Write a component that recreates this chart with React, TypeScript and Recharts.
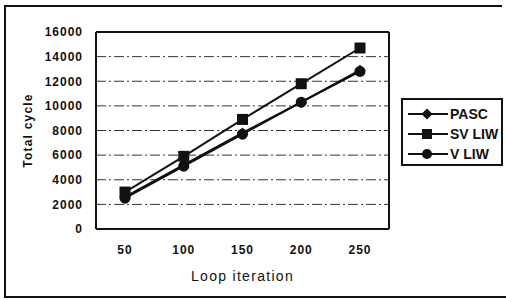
import React from 'react';
import { LineChart, Line, XAxis, YAxis, CartesianGrid } from 'recharts';

// values
const categories = ['50', '100', '150', '200', '250'];
const pascValues = [2600, 5200, 7800, 10300, 12900];
const svliwValues = [3000, 5900, 8900, 11800, 14700];
const vliwValues = [2500, 5100, 7700, 10300, 12800];
const yTicks = [0, 2000, 4000, 6000, 8000, 10000, 12000, 14000, 16000];

const seriesNames = ['PASC', 'SV LIW', 'V LIW'];

const data = categories.map((c, i) => ({
  iter: c,
  PASC: pascValues[i],
  'SV LIW': svliwValues[i],
  'V LIW': vliwValues[i],
}));

const FONT = '"Liberation Sans", Arial, sans-serif';
const INK = '#111';

function Diamond(props: any) {
  const { cx, cy, index } = props;
  if (cx == null || cy == null) return null;
  return (
    <path
      key={`d-${index}`}
      d={`M${cx},${cy - 5.5}L${cx + 5.5},${cy}L${cx},${cy + 5.5}L${cx - 5.5},${cy}Z`}
      fill={INK}
    />
  );
}

function Square(props: any) {
  const { cx, cy, index } = props;
  if (cx == null || cy == null) return null;
  return <rect key={`s-${index}`} x={cx - 5.5} y={cy - 5.5} width={11} height={11} fill={INK} />;
}

function Circle(props: any) {
  const { cx, cy, index } = props;
  if (cx == null || cy == null) return null;
  return <circle key={`c-${index}`} cx={cx} cy={cy} r={5.5} fill={INK} />;
}

function marker(name: string) {
  if (name === 'PASC') return <path d="M20,3.5L25.5,9L20,14.5L14.5,9Z" fill={INK} />;
  if (name === 'SV LIW') return <rect x={15} y={4} width={10} height={10} fill={INK} />;
  return <circle cx={20} cy={9} r={5} fill={INK} />;
}

function LegendBox() {
  return (
    <div
      style={{
        position: 'absolute',
        left: 401,
        top: 98,
        width: 102,
        height: 68,
        border: `2px solid ${INK}`,
        background: '#fff',
        padding: '4px 0 0 4px',
        boxSizing: 'border-box',
      }}
    >
      {seriesNames.map((name) => (
        <div key={name} style={{ display: 'flex', alignItems: 'center', height: 20, whiteSpace: 'nowrap' }}>
          <svg width={41} height={18} style={{ flex: 'none' }}>
            <line x1={1} y1={9} x2={41} y2={9} stroke={INK} strokeWidth={2} />
            {marker(name)}
          </svg>
          <span
            style={{
              fontFamily: FONT,
              fontWeight: 'bold',
              fontSize: 14,
              color: INK,
              marginLeft: 2,
            }}
          >
            {name}
          </span>
        </div>
      ))}
    </div>
  );
}

export default function App() {
  const tickStyle = { fontFamily: FONT, fontSize: 12, fontWeight: 'bold', fill: INK, letterSpacing: 1 };
  return (
    <div style={{ position: 'absolute', left: 0, top: 0, width: 506, height: 300, background: '#fff' }}>
      <div style={{ position: 'absolute', left: 0, top: 0 }}>
        <LineChart width={506} height={300} data={data} margin={{ top: 31, right: 116, bottom: 11, left: 0 }}>
          <CartesianGrid vertical={false} stroke="#333" strokeDasharray="10 3 2 3" />
          <XAxis
            dataKey="iter"
            height={60}
            padding={{ left: 29, right: 29 }}
            tickSize={0}
            tickMargin={16}
            tick={tickStyle}
            axisLine={{ stroke: INK, strokeWidth: 2 }}
            label={{
              value: 'Loop iteration',
              position: 'insideBottom',
              offset: 8,
              style: { fontFamily: FONT, fontSize: 14, letterSpacing: 1.3, fill: INK },
            }}
          />
          <XAxis xAxisId="top" dataKey="iter" orientation="top" height={1} tick={false} tickLine={false} axisLine={{ stroke: INK, strokeWidth: 2 }} />
          <YAxis
            width={96}
            domain={[0, 16000]}
            ticks={yTicks}
            interval={0}
            tickSize={0}
            tickMargin={13}
            tick={tickStyle}
            axisLine={{ stroke: INK, strokeWidth: 2 }}
            label={{
              value: 'Total cycle',
              angle: -90,
              position: 'insideLeft',
              offset: 28,
              style: { fontFamily: FONT, fontSize: 12, fontWeight: 'bold', letterSpacing: 1.2, fill: INK, textAnchor: 'middle' },
            }}
          />
          <YAxis yAxisId="right" orientation="right" width={1} domain={[0, 16000]} tick={false} tickLine={false} axisLine={{ stroke: INK, strokeWidth: 2 }} />
          <Line dataKey="V LIW" stroke={INK} strokeWidth={2} dot={Circle} isAnimationActive={false} />
          <Line dataKey="PASC" stroke={INK} strokeWidth={2} dot={Diamond} isAnimationActive={false} />
          <Line dataKey="SV LIW" stroke={INK} strokeWidth={2} dot={Square} isAnimationActive={false} />
        </LineChart>
      </div>
      <LegendBox />
      <svg
        width={506}
        height={300}
        style={{ position: 'absolute', left: 0, top: 0, pointerEvents: 'none' }}
      >
        {/* outer frame of the scanned figure, cut off on the right */}
        <path d="M502,6 H5 V297 H506" fill="none" stroke={INK} strokeWidth={2} />
      </svg>
    </div>
  );
}
